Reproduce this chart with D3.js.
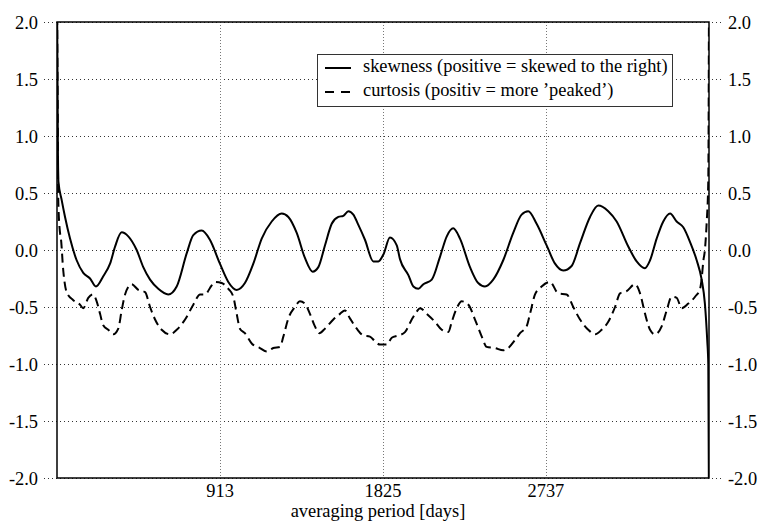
<!DOCTYPE html>
<html>
<head>
<meta charset="utf-8">
<script src="https://cdn.jsdelivr.net/npm/d3@7"></script>
<style>
  body { margin: 0; background: #fff; }
</style>
</head>
<body>
<div id="container"></div>
<script>
var width = 761,
    height = 521;

// averaging period in days
var skewDays = [0, 5, 8, 26, 45, 73, 110, 147, 185, 218, 259, 297, 325, 362, 399, 446, 483, 521, 567, 623,
    670, 726, 763, 810, 856, 912, 959, 1006, 1052, 1099, 1146, 1202, 1258, 1295, 1342, 1388, 1431, 1463,
    1500, 1538, 1575, 1603, 1631, 1659, 1687, 1724, 1771, 1799, 1827, 1864, 1902, 1920, 1967, 1995, 2023,
    2051, 2098, 2144, 2182, 2218, 2256, 2312, 2358, 2396, 2442, 2498, 2554, 2601, 2638, 2685, 2741, 2788,
    2834, 2881, 2928, 2984, 3030, 3086, 3133, 3198, 3245, 3291, 3320, 3357, 3394, 3432, 3469, 3506, 3544,
    3581, 3609, 3627, 3640, 3646, 3650];
var skewness = [2.3, 0.9, 0.6, 0.44, 0.29, 0.10, -0.09, -0.2, -0.25, -0.32, -0.23, -0.12, 0.03, 0.155, 0.12,
    0.0, -0.15, -0.26, -0.34, -0.39, -0.32, -0.03, 0.13, 0.17, 0.09, -0.12, -0.28, -0.35, -0.29, -0.12, 0.10,
    0.25, 0.32, 0.29, 0.15, -0.07, -0.19, -0.15, 0.04, 0.23, 0.29, 0.30, 0.34, 0.31, 0.22, 0.09, -0.10, -0.10,
    -0.04, 0.11, 0.04, -0.08, -0.22, -0.32, -0.34, -0.30, -0.26, -0.06, 0.12, 0.19, 0.10, -0.15, -0.29, -0.32,
    -0.26, -0.09, 0.15, 0.31, 0.34, 0.23, 0.04, -0.12, -0.18, -0.14, 0.06, 0.29, 0.39, 0.34, 0.25, 0.03, -0.10,
    -0.16, -0.09, 0.10, 0.25, 0.32, 0.25, 0.20, 0.07, -0.09, -0.26, -0.47, -0.79, -1.0, -2.3];

var curtDays = [0, 4, 7, 17, 22, 35, 54, 91, 129, 147, 175, 200, 222, 241, 259, 287, 315, 343, 362, 381, 418,
    455, 493, 521, 549, 586, 633, 670, 717, 763, 801, 828, 866, 884, 922, 959, 987, 1006, 1024, 1052, 1090,
    1136, 1174, 1211, 1248, 1267, 1295, 1332, 1360, 1388, 1416, 1444, 1468, 1500, 1547, 1584, 1612, 1640,
    1678, 1715, 1752, 1780, 1808, 1846, 1874, 1911, 1948, 1986, 2014, 2032, 2070, 2116, 2154, 2191, 2210,
    2238, 2266, 2303, 2340, 2378, 2405, 2452, 2498, 2526, 2564, 2592, 2629, 2648, 2676, 2713, 2760, 2806,
    2853, 2890, 2928, 2974, 3012, 3049, 3086, 3124, 3152, 3189, 3236, 3264, 3292, 3320, 3348, 3385, 3413,
    3441, 3469, 3497, 3534, 3572, 3600, 3609, 3618, 3627, 3637, 3646, 3650];
var curtosis = [2.3, 1.2, 0.44, 0.15, 0.1, -0.18, -0.37, -0.44, -0.48, -0.51, -0.42, -0.39, -0.45, -0.56,
    -0.66, -0.70, -0.74, -0.69, -0.53, -0.39, -0.30, -0.35, -0.37, -0.50, -0.61, -0.70, -0.74, -0.70, -0.61,
    -0.48, -0.39, -0.39, -0.31, -0.28, -0.29, -0.34, -0.41, -0.56, -0.69, -0.73, -0.82, -0.86, -0.89, -0.86,
    -0.85, -0.76, -0.60, -0.50, -0.45, -0.47, -0.56, -0.67, -0.73, -0.69, -0.61, -0.56, -0.53, -0.60, -0.69,
    -0.75, -0.76, -0.80, -0.83, -0.83, -0.77, -0.75, -0.72, -0.61, -0.54, -0.51, -0.56, -0.63, -0.70, -0.72,
    -0.63, -0.51, -0.45, -0.48, -0.61, -0.76, -0.85, -0.86, -0.88, -0.86, -0.79, -0.73, -0.67, -0.56, -0.39,
    -0.32, -0.28, -0.38, -0.39, -0.50, -0.61, -0.70, -0.74, -0.70, -0.63, -0.50, -0.38, -0.36, -0.30, -0.38,
    -0.56, -0.70, -0.74, -0.67, -0.53, -0.41, -0.42, -0.51, -0.47, -0.41, -0.34, -0.25, -0.10, 0.0, 0.24,
    0.61, 2.3];

var xTicks = [913, 1825, 2737];
var yTicks = [-2.0, -1.5, -1.0, -0.5, 0.0, 0.5, 1.0, 1.5, 2.0];
var legendLabels = ["skewness (positive = skewed to the right)", "curtosis (positiv = more \u2019peaked\u2019)"];

var pLeft = 57, pRight = 709, pTop = 22, pBottom = 478;
var fontName = "Liberation Serif";
var fontSize = "18.4px";

var svg = d3.select("#container").append("svg")
    .attr("width", width)
    .attr("height", height);

var x = d3.scaleLinear().domain([0, 3650]).range([pLeft, pRight]);
var y = d3.scaleLinear().domain([-2, 2]).range([pBottom, pTop]);

function serifText(sel) {
    sel.style("font-family", fontName)
        .style("font-size", fontSize)
        .attr("fill", "#000");
}

// horizontal grid, running out past the frame to the labels
svg.selectAll(".hgrid")
    .data(yTicks)
    .enter().append("line")
    .attr("x1", 44)
    .attr("x2", 723)
    .attr("y1", d => Math.round(y(d)) + 0.5)
    .attr("y2", d => Math.round(y(d)) + 0.5)
    .attr("stroke", "#333")
    .attr("stroke-width", 1)
    .attr("stroke-dasharray", "1,3");

svg.selectAll(".vgrid")
    .data(xTicks)
    .enter().append("line")
    .attr("x1", d => Math.round(x(d)) + 0.5)
    .attr("x2", d => Math.round(x(d)) + 0.5)
    .attr("y1", pTop)
    .attr("y2", pBottom)
    .attr("stroke", "#777")
    .attr("stroke-width", 1)
    .attr("stroke-dasharray", "1,2");

svg.selectAll(".ylabL")
    .data(yTicks)
    .enter().append("text")
    .call(serifText)
    .attr("x", 38)
    .attr("y", d => y(d) + 6.5)
    .attr("text-anchor", "end")
    .text(d => d.toFixed(1));

svg.selectAll(".ylabR")
    .data(yTicks)
    .enter().append("text")
    .call(serifText)
    .attr("x", 728)
    .attr("y", d => y(d) + 6.5)
    .text(d => d.toFixed(1));

svg.selectAll(".xlab")
    .data(xTicks)
    .enter().append("text")
    .call(serifText)
    .attr("x", d => x(d))
    .attr("y", 497)
    .attr("text-anchor", "middle")
    .text(d => d);

svg.append("text")
    .call(serifText)
    .attr("x", x(1825) - 5)
    .attr("y", 517)
    .attr("text-anchor", "middle")
    .text("averaging period [days]");

svg.append("clipPath").attr("id", "clip")
    .append("rect")
    .attr("x", pLeft).attr("y", pTop)
    .attr("width", pRight - pLeft).attr("height", pBottom - pTop);

var line = d3.line()
    .curve(d3.curveMonotoneX)
    .x(d => x(d[0]))
    .y(d => y(d[1]));

var skewData = skewDays.map((d, i) => [d, skewness[i]]);
var curtData = curtDays.map((d, i) => [d, curtosis[i]]);

svg.append("path")
    .attr("d", line(curtData))
    .attr("clip-path", "url(#clip)")
    .attr("fill", "none")
    .attr("stroke", "#000")
    .attr("stroke-width", 2)
    .attr("stroke-dasharray", "9,5");

svg.append("path")
    .attr("d", line(skewData))
    .attr("clip-path", "url(#clip)")
    .attr("fill", "none")
    .attr("stroke", "#000")
    .attr("stroke-width", 2);

// frame
svg.append("rect")
    .attr("x", pLeft)
    .attr("y", pTop)
    .attr("width", pRight - pLeft)
    .attr("height", pBottom - pTop)
    .attr("fill", "none")
    .attr("stroke", "#000")
    .attr("stroke-width", 1.5);

// legend
var lg = svg.append("g");
lg.append("rect")
    .attr("x", 317.5)
    .attr("y", 54.5)
    .attr("width", 355)
    .attr("height", 52)
    .attr("fill", "#fff")
    .attr("stroke", "#333")
    .attr("stroke-width", 1);

lg.selectAll(".lgline")
    .data(legendLabels)
    .enter().append("line")
    .attr("x1", 325)
    .attr("x2", 351)
    .attr("y1", (d, i) => 68 + i * 24)
    .attr("y2", (d, i) => 68 + i * 24)
    .attr("stroke", "#000")
    .attr("stroke-width", 2)
    .attr("stroke-dasharray", (d, i) => i == 0 ? null : "9,7");

lg.selectAll(".lgtext")
    .data(legendLabels)
    .enter().append("text")
    .call(serifText)
    .attr("x", 363)
    .attr("y", (d, i) => 72 + i * 23.5)
    .text(d => d);
</script>
</body>
</html>
